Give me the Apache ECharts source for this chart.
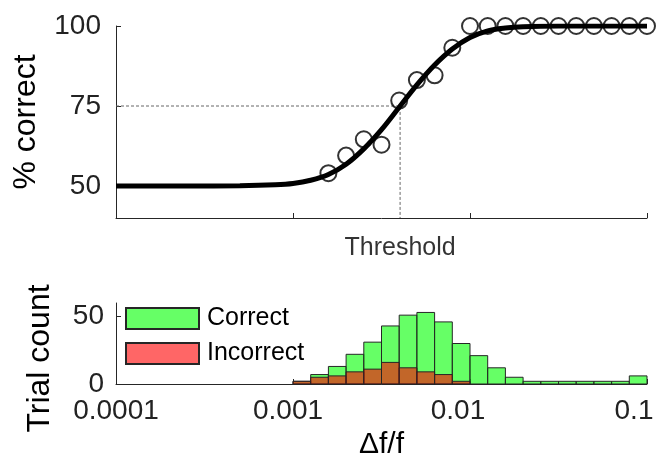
<!DOCTYPE html>
<html>
<head>
<meta charset="utf-8">
<script src="https://cdn.jsdelivr.net/npm/echarts@6/dist/echarts.min.js"></script>
<style>
html,body{margin:0;padding:0;background:#fff;}
#chart{width:665px;height:461px;}
</style>
</head>
<body>
<div id="chart"></div>
<script>
// ---- Data ----
// Psychometric points: log10(Δf/f) and % correct
const pointLog = [-2.8,-2.7,-2.6,-2.5,-2.4,-2.3,-2.2,-2.1,-2.0,-1.9,-1.8,-1.7,-1.6,-1.5,-1.4,-1.3,-1.2,-1.1,-1.0];
const pointPct = [54.0,59.5,64.6,62.9,76.7,83.1,84.6,93.2,100,100,100,100,100,100,100,100,100,100,100];
// Fitted curve
const curveLog = [-4.0,-3.6,-3.3,-3.1,-3.0,-2.9,-2.8,-2.7,-2.6,-2.5,-2.4,-2.3,-2.2,-2.1,-2.0,-1.9,-1.8,-1.7,-1.5,-1.0];
const curvePct = [50,50,50.1,50.4,50.8,51.8,53.6,56.8,61.6,67.6,74.6,81.6,87.8,92.8,96.4,98.5,99.4,99.8,100,100];
// Threshold (75 % correct)
const thresholdLog = -2.395;
const thresholdPct = 75;
// Histogram: bin edges (log10) and counts
const binEdgesLog = [-3.0,-2.9,-2.8,-2.7,-2.6,-2.5,-2.4,-2.3,-2.2,-2.1,-2.0,-1.9,-1.8,-1.7,-1.6,-1.5,-1.4,-1.3,-1.2,-1.1,-1.0];
const correctCounts   = [2,7,13,22,31,43,51,53,46,30,21,12,5,2,2,2,2,2,2,6];
const incorrectCounts = [2,5,6,9,11,16,12,9,7,2,0,0,0,0,0,0,0,0,0,0];
const xTickLabels = ['0.0001','0.001','0.01','0.1'];
const seriesNames = ['Correct','Incorrect'];

// ---- Build ----
const p10 = e => Math.pow(10, e);
const pointData = pointLog.map((e,i)=>[p10(e), pointPct[i]]);
const curveData = curveLog.map((e,i)=>[p10(e), curvePct[i]]);
const thr = p10(thresholdLog);
function bins(counts){
  const out=[];
  counts.forEach((c,i)=>{ if(c>0) out.push([p10(binEdgesLog[i]), p10(binEdgesLog[i+1]), c]); });
  return out;
}
const FONT = '"Liberation Sans", Arial, Helvetica, sans-serif';
const AX = '#262626';
const labelShift = [0, 10, 24, 26];

function renderBar(params, api){
  const lo = api.coord([api.value(0), 0]);
  const hi = api.coord([api.value(1), api.value(2)]);
  return {type:'rect', shape:{x:lo[0], y:hi[1], width:hi[0]-lo[0], height:lo[1]-hi[1]}, style: api.style()};
}

const chart = echarts.init(document.getElementById('chart'), null, {renderer:'canvas'});
chart.setOption({
  animation:false,
  backgroundColor:'#fff',
  textStyle:{fontFamily:FONT},
  grid:[
    {left:116, right:18, top:26, height:192},
    {left:116, right:18, top:303, height:86}
  ],
  legend:{
    data:seriesNames, orient:'vertical', left:120, top:301, icon:'rect',
    itemWidth:73, itemHeight:21, itemGap:10, selectedMode:false,
    textStyle:{fontSize:25, color:'#000', fontFamily:FONT, padding:[0,0,0,3]}
  },
  xAxis:[
    {type:'log', logBase:10, gridIndex:0, min:1e-4, max:0.1,
     axisLine:{lineStyle:{color:AX, width:1}},
     axisTick:{inside:true, length:5, lineStyle:{color:AX}},
     axisLabel:{show:false}, splitLine:{show:false}, minorTick:{show:false}},
    {type:'log', logBase:10, gridIndex:1, min:1e-4, max:0.1,
     axisLine:{lineStyle:{color:AX, width:1}},
     axisTick:{inside:true, length:5, lineStyle:{color:AX}},
     axisLabel:{fontSize:28, color:'#222', margin:13, fontFamily:FONT,
       formatter:v=>{const k=Math.round(Math.log10(v))+4; return '{s'+k+'|'+xTickLabels[k]+'}';},
       rich:{s0:{fontSize:28,padding:[0,labelShift[0],0,0]},s1:{fontSize:28,padding:[0,labelShift[1],0,0]},
             s2:{fontSize:28,padding:[0,labelShift[2],0,0]},s3:{fontSize:28,padding:[0,labelShift[3],0,0]}}},
     splitLine:{show:false},
     name:'Δf/f', nameLocation:'middle', nameGap:46,
     nameTextStyle:{fontSize:30, color:'#000', fontFamily:FONT}}
  ],
  yAxis:[
    {type:'value', gridIndex:0, min:40, max:100,
     axisLine:{show:true, lineStyle:{color:AX, width:1}},
     axisTick:{show:true, inside:true, length:5, customValues:[50,75,100], lineStyle:{color:AX}},
     axisLabel:{fontSize:28, color:'#222', margin:15, customValues:[50,75,100], fontFamily:FONT},
     splitLine:{show:false},
     name:'% correct', nameLocation:'middle', nameGap:74,
     nameTextStyle:{fontSize:32, color:'#000', fontFamily:FONT}},
    {type:'value', gridIndex:1, min:0, max:60,
     axisLine:{show:true, lineStyle:{color:AX, width:1}},
     axisTick:{show:true, inside:true, length:5, customValues:[0,50], lineStyle:{color:AX}},
     axisLabel:{fontSize:28, color:'#222', margin:12, customValues:[0,50], fontFamily:FONT},
     splitLine:{show:false},
     name:'Trial count', nameLocation:'middle', nameGap:60,
     nameTextStyle:{fontSize:32, color:'#000', fontFamily:FONT, padding:[0,30,0,0]}}
  ],
  series:[
    {type:'line', xAxisIndex:0, yAxisIndex:0, silent:true, symbol:'none',
     data:[[1e-4, thresholdPct],[thr, thresholdPct],[thr, 40]],
     lineStyle:{color:'#666', width:1, type:[3,2]}, z:1},
    {type:'line', xAxisIndex:0, yAxisIndex:0, silent:true, symbol:'none', smooth:0.35,
     data:curveData, lineStyle:{color:'#000', width:5}, z:3},
    {type:'scatter', xAxisIndex:0, yAxisIndex:0, silent:true, symbol:'circle', symbolSize:16,
     data:pointData, itemStyle:{color:'rgba(0,0,0,0)', borderColor:'#000', borderWidth:2}, z:4},
    {type:'scatter', xAxisIndex:0, yAxisIndex:0, silent:true, symbolSize:0,
     data:[[thr, 40]],
     label:{show:true, position:'bottom', distance:18, formatter:'Threshold', fontSize:25, color:'#000', fontFamily:FONT}},
    {name:seriesNames[0], type:'custom', xAxisIndex:1, yAxisIndex:1, renderItem:renderBar,
     encode:{x:[0,1], y:2}, data:bins(correctCounts),
     itemStyle:{color:'rgba(0,255,0,0.6)', borderColor:'#262626', borderWidth:1}},
    {name:seriesNames[1], type:'custom', xAxisIndex:1, yAxisIndex:1, renderItem:renderBar,
     encode:{x:[0,1], y:2}, data:bins(incorrectCounts),
     itemStyle:{color:'rgba(255,0,0,0.6)', borderColor:'#262626', borderWidth:1}}
  ]
});
</script>
</body>
</html>
